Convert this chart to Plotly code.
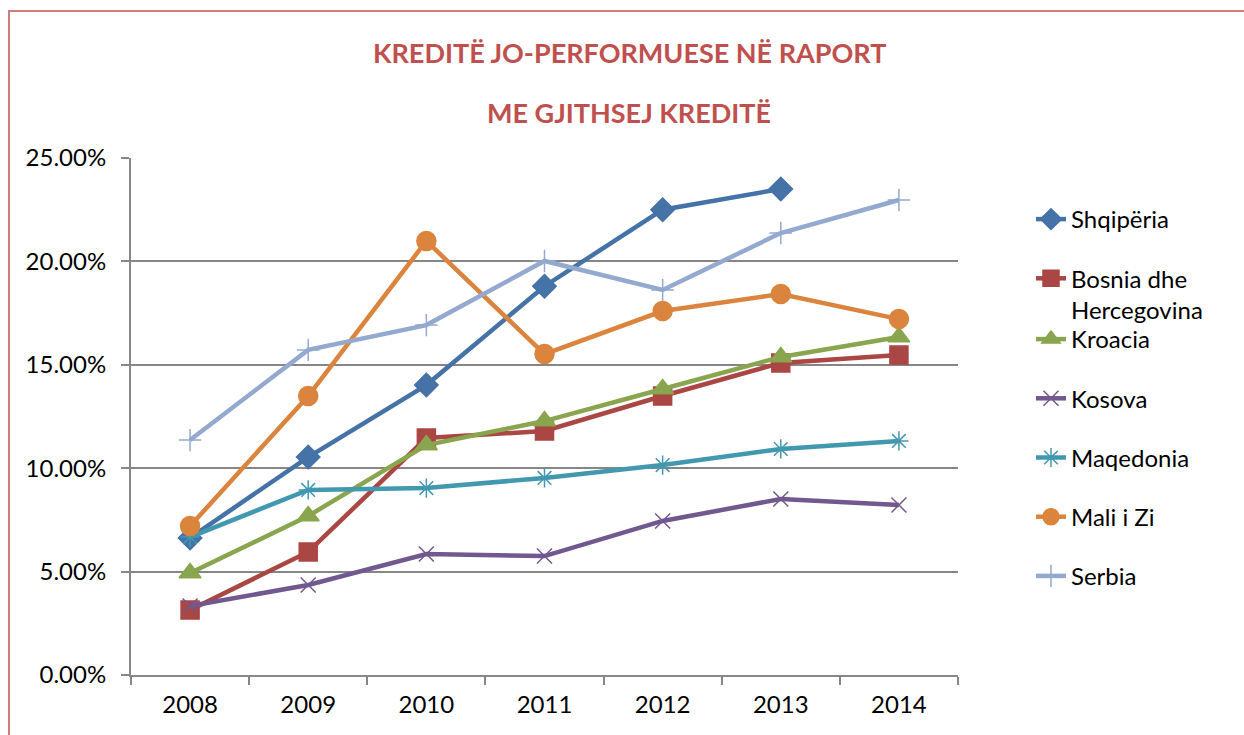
import plotly.graph_objects as go

years = ["2008", "2009", "2010", "2011", "2012", "2013", "2014"]
shqiperia = [6.63, 10.54, 14.02, 18.8, 22.5, 23.5, None]
bosnia = [3.14, 5.95, 11.46, 11.8, 13.49, 15.09, 15.47]
kroacia = [4.93, 7.69, 11.12, 12.28, 13.83, 15.38, 16.34]
kosova = [3.34, 4.35, 5.85, 5.75, 7.45, 8.51, 8.22]
maqedonia = [6.67, 8.95, 9.04, 9.53, 10.15, 10.93, 11.32]
mali_i_zi = [7.2, 13.49, 20.99, 15.52, 17.6, 18.42, 17.21]
serbia = [11.36, 15.72, 16.92, 20.02, 18.62, 21.37, 22.97]

series = [
    ("Shqipëria", shqiperia, "#4572A7", "diamond", 18, "legend"),
    ("Bosnia dhe<br>Hercegovina", bosnia, "#AA4643", "square", 18, "legend"),
    ("Kroacia", kroacia, "#89A54E", "triangle-up", 19, "legend2"),
    ("Kosova", kosova, "#71588F", "x-thin-open", 15, "legend2"),
    ("Maqedonia", maqedonia, "#4198AF", "asterisk-open", 16, "legend2"),
    ("Mali i Zi", mali_i_zi, "#DB843D", "circle", 19, "legend2"),
    ("Serbia", serbia, "#93A9CF", "cross-thin-open", 16, "legend2"),
]

FONT = "Lato, 'Open Sans', sans-serif"
fig = go.Figure()
for i, (name, vals, color, sym, size, leg) in enumerate(series):
    fig.add_trace(go.Scatter(
        x=years, y=[v / 100 if v is not None else None for v in vals],
        name=name, mode="lines+markers", legendgroup=f"g{i}", legend=leg,
        line=dict(color=color, width=4.5),
        marker=dict(symbol=sym, size=size, color=color,
                    line=dict(color=color, width=1.5)),
    ))

legend_common = dict(xanchor="left", yanchor="top", font=dict(size=24),
                     tracegroupgap=25, valign="top", bgcolor="rgba(0,0,0,0)")
fig.update_layout(
    width=1244, height=735,
    margin=dict(l=131, r=286, t=158, b=60, autoexpand=False),
    paper_bgcolor="white", plot_bgcolor="white",
    font=dict(family=FONT, size=24, color="black"),
    showlegend=True,
    legend=dict(x=(1031 - 131) / 827, y=(675 - 197) / 517, **legend_common),
    legend2=dict(x=(1031 - 131) / 827, y=(675 - 317) / 517, **legend_common),
    annotations=[
        dict(text="<b>KREDITË JO-PERFORMUESE NË RAPORT</b>", xref="paper", yref="paper",
             x=(629 - 131) / 827, y=(675 - 52) / 517, showarrow=False,
             font=dict(size=27, color="#C0504D", family=FONT), xanchor="center", yanchor="middle"),
        dict(text="<b>ME GJITHSEJ KREDITË</b>", xref="paper", yref="paper",
             x=(629 - 131) / 827, y=(675 - 112) / 517, showarrow=False,
             font=dict(size=27, color="#C0504D", family=FONT), xanchor="center", yanchor="middle"),
    ],
    shapes=[dict(type="rect", xref="paper", yref="paper",
                 x0=(9 - 131) / 827, x1=(1260 - 131) / 827,
                 y0=(675 - 760) / 517, y1=(675 - 11) / 517,
                 line=dict(color="#D07C7A", width=2), fillcolor="rgba(0,0,0,0)", layer="below")],
)
fig.update_xaxes(type="category", range=[-0.5, 6.5], showline=True, linecolor="#868686", linewidth=2,
                 ticks="outside", tickson="boundaries", ticklen=8, tickcolor="#868686",
                 tickwidth=2, showgrid=False, tickfont=dict(size=24), ticklabelstandoff=7,
                 automargin=False)
fig.update_yaxes(range=[0, 0.25], dtick=0.05, tickformat=".2%", showline=True,
                 linecolor="#868686", linewidth=2, ticks="outside", ticklen=8,
                 tickcolor="#868686", tickwidth=2, showgrid=True, gridcolor="#868686",
                 gridwidth=1.5, zeroline=False, tickfont=dict(size=24), ticklabelstandoff=10,
                 automargin=False)

fig.write_html("out.html", config={"displayModeBar": False},
               post_script="document.body.style.margin='0px';")
